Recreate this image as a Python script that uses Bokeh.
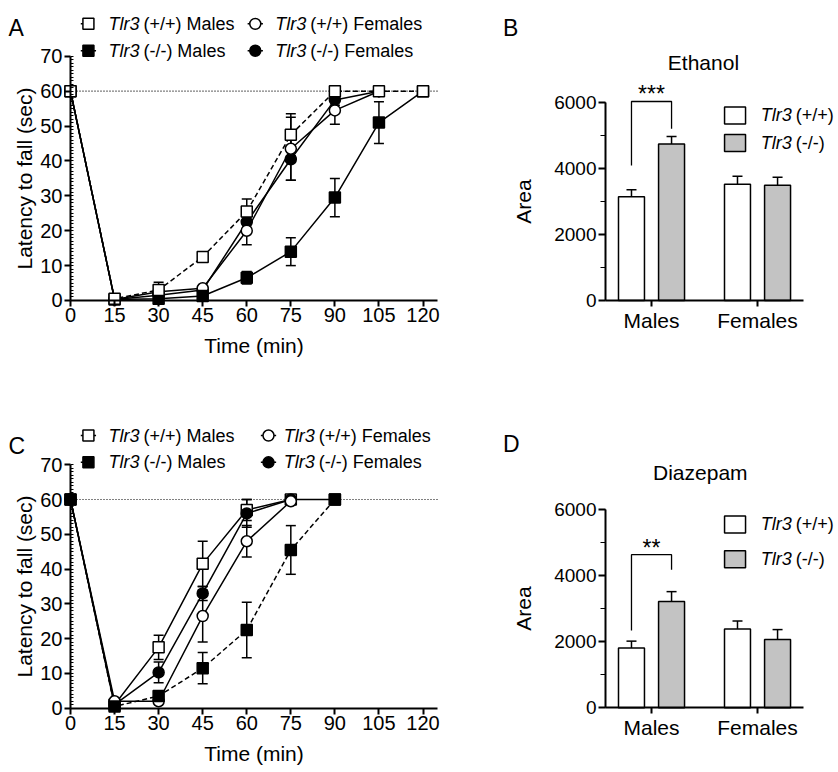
from bokeh.plotting import figure
from bokeh.layouts import row, column
from bokeh.models import (Range1d, FixedTicker, SingleIntervalTicker, Whisker, TeeHead,
                          ColumnDataSource, Label)
from bokeh.core.properties import value
from bokeh.embed import file_html
from bokeh.resources import INLINE

FONT = "Liberation Sans"

# ---------------- data ----------------
cutoff = 60            # max latency (sec)
time_axis_end = 125
time_ticks = [0, 15, 30, 45, 60, 75, 90, 105, 120]
latency_axis_end = 70

# Panel A: Ethanol, latency to fall (sec)
eth_t_wt_m = [0, 15, 30, 45, 60, 75, 90, 105, 120]
eth_wt_m = [60, 0.5, 3, 12.5, 25.5, 47.5, 60, 60, 60]
eth_wt_m_sem = [0, 0, 2.2, 1.2, 3.6, 6, 0, 0, 0]
eth_t_ko_m = [0, 15, 30, 45, 60, 75, 90, 105, 120]
eth_ko_m = [60, 0.3, 0.5, 1.3, 6.5, 14, 29.5, 51, 60]
eth_ko_m_sem = [0, 0, 0.3, 0.5, 1.8, 4, 5.5, 6, 0]
eth_t_wt_f = [0, 15, 30, 45, 60, 75, 90, 105]
eth_wt_f = [60, 0.3, 2.5, 3.5, 20, 43.5, 54.5, 60]
eth_wt_f_sem = [0, 0, 0.5, 0.5, 4, 9, 4, 0]
eth_t_ko_f = [0, 15, 30, 45, 60, 75, 90, 105]
eth_ko_f = [60, 0.3, 1.5, 3, 22.5, 40.5, 57.5, 60]
eth_ko_f_sem = [0, 0, 0.5, 0.5, 2.5, 6, 1.5, 0]

# Panel C: Diazepam, latency to fall (sec)
dia_t_wt_m = [0, 15, 30, 45, 60, 75, 90]
dia_wt_m = [60, 1, 17.5, 41.5, 57, 60, 60]
dia_wt_m_sem = [0, 0, 3.5, 6.5, 3, 0, 0]
dia_t_ko_m = [0, 15, 30, 45, 60, 75, 90]
dia_ko_m = [60, 0.5, 3.5, 11.5, 22.5, 45.5, 60]
dia_ko_m_sem = [0, 0, 1, 4.5, 8, 7, 0]
dia_t_wt_f = [0, 15, 30, 45, 60, 75]
dia_wt_f = [60, 2, 2, 26.5, 48, 59.5]
dia_wt_f_sem = [0, 0, 0.5, 7.5, 4.5, 0.5]
dia_t_ko_f = [0, 15, 30, 45, 60, 75]
dia_ko_f = [60, 1, 10.3, 33, 56, 60]
dia_ko_f_sem = [0, 0, 3, 2, 4, 0]

# Panels B / D: area under curve
groups = ["Males", "Females"]
area_axis_end = 6000
eth_area_wt = [3150, 3530]
eth_area_wt_sem = [210, 240]
eth_area_ko = [4750, 3500]
eth_area_ko_sem = [230, 240]
dia_area_wt = [1810, 2390]
dia_area_wt_sem = [210, 240]
dia_area_ko = [3220, 2070]
dia_area_ko_sem = [300, 300]
# significance brackets: [left leg bottom, top, right leg bottom]
eth_sig = [4100, 6040, 5210]
eth_sig_text = "***"
dia_sig = [2340, 4640, 4180]
dia_sig_text = "**"

geno_labels = [("Tlr3", "(+/+)"), ("Tlr3", "(-/-)")]
series_labels = [("Tlr3", "(+/+) Males"), ("Tlr3", "(-/-) Males"),
                 ("Tlr3", "(+/+) Females"), ("Tlr3", "(-/-) Females")]

DASH = "5 3"
KO_GREY = "#c3c3c3"


def base_fig(w, h, xr, yr):
    p = figure(width=w, height=h, min_border=0, x_range=Range1d(*xr), y_range=Range1d(*yr),
               output_backend="svg", toolbar_location=None)
    p.outline_line_color = None
    p.grid.visible = False
    p.background_fill_color = "white"
    p.border_fill_color = "white"
    return p


def style_axis(ax, tick_size, label_size):
    ax.axis_line_width = 2
    ax.axis_line_color = "black"
    ax.major_tick_line_width = 2
    ax.major_tick_line_color = "black"
    ax.minor_tick_line_width = 1.2
    ax.minor_tick_line_color = "black"
    ax.major_tick_out = 6
    ax.major_tick_in = 0
    ax.minor_tick_in = 0
    ax.minor_tick_out = 0
    ax.major_label_text_font = FONT
    ax.major_label_text_font_size = tick_size
    ax.major_label_text_color = "black"
    ax.axis_label_text_font = FONT
    ax.axis_label_text_font_size = label_size
    ax.axis_label_text_font_style = "normal"
    ax.axis_label_text_color = "black"
    ax.major_label_standoff = 2
    ax.axis_label_standoff = 3


def line_panel(series, letter, letter_y, h, yr, leg_cols, leg_rows, leg_text_dx):
    p = base_fig(476, h, (-23.83, 138.21), yr)
    p.xaxis.fixed_location = 0
    p.yaxis.fixed_location = 0
    p.xaxis.bounds = (0, time_axis_end)
    p.yaxis.bounds = (0, latency_axis_end)
    p.xaxis.ticker = FixedTicker(ticks=time_ticks)
    p.yaxis.ticker = SingleIntervalTicker(interval=10, num_minor_ticks=10)
    p.xaxis.axis_label = "Time (min)"
    p.yaxis.axis_label = "Latency to fall (sec)"
    for ax in (p.xaxis[0], p.yaxis[0]):
        style_axis(ax, "20px", "21px")
    p.yaxis.minor_tick_in = 3
    p.xaxis.axis_label_standoff = 8
    p.yaxis.axis_label_standoff = 1

    # dotted cut-off line
    p.line([0, time_axis_end], [cutoff, cutoff], line_color="black", line_width=1.2,
           line_dash="1 2")

    for (t, v, sem, marker, fill, dash, lab, col, rw) in series:
        src = ColumnDataSource(dict(
            x=[ti for ti, s in zip(t, sem) if s > 0],
            lo=[vi - s for vi, s in zip(v, sem) if s > 0],
            hi=[vi + s for vi, s in zip(v, sem) if s > 0]))
        p.add_layout(Whisker(source=src, base="x", lower="lo", upper="hi",
                             dimension="height", line_color="black", line_width=1.5,
                             upper_head=TeeHead(size=10, line_width=1.5),
                             lower_head=TeeHead(size=10, line_width=1.5),
                             level="underlay"))
        p.line(t, v, line_color="black", line_width=1.5, line_dash=dash)
        # legend swatch + label
        lx = leg_cols[col]
        ly = leg_rows[rw]
        p.line([lx - 2.6, lx + 2.6], [ly, ly], line_color="black", line_width=1.5,
               line_dash=dash)
        p.text(x=[lx + leg_text_dx[col]], y=[ly], text=[lab[0]], text_font=value(FONT),
               text_font_style="italic", text_font_size="18px", text_baseline="middle",
               text_color="black")
        p.text(x=[lx + leg_text_dx[col]], y=[ly], text=[lab[1]], text_font=value(FONT),
               text_font_size="18px", text_baseline="middle", text_color="black",
               x_offset=35)

    for (t, v, sem, marker, fill, dash, lab, col, rw) in series:
        p.scatter(t, v, marker=marker, size=11, fill_color=fill, line_color="black",
                  line_width=1.5)
        p.scatter([leg_cols[col]], [leg_rows[rw]], marker=marker, size=11,
                  fill_color=fill, line_color="black", line_width=1.5)

    p.add_layout(Label(x=-21.1, y=letter_y, text=letter, text_font=FONT,
                       text_font_size="23px", text_color="black",
                       text_baseline="alphabetic", text_font_style="normal"))
    return p


def bar_panel(wt, wt_sem, ko, ko_sem, sig, sig_text, title, title_xy, letter, letter_y,
              leg_y, h, yr, box_h):
    gx = [i + 1 for i in range(len(groups))]
    x0, x1 = 0.566, 2.434
    p = base_fig(360, h, (-0.651, 2.745), yr)
    p.xaxis.fixed_location = 0
    p.yaxis.fixed_location = x0
    p.xaxis.bounds = (x0, x1)
    p.yaxis.bounds = (0, area_axis_end)
    p.yaxis.ticker = SingleIntervalTicker(interval=2000, num_minor_ticks=2)
    p.xaxis.ticker = FixedTicker(ticks=gx)
    p.xaxis.major_label_overrides = {g: name for g, name in zip(gx, groups)}
    p.yaxis.axis_label = "Area"
    style_axis(p.xaxis[0], "21px", "21px")
    style_axis(p.yaxis[0], "19px", "21px")
    p.yaxis.minor_tick_out = 5
    p.yaxis.major_tick_out = 7
    p.xaxis.major_tick_out = 6
    p.yaxis.axis_label_standoff = 16

    off = 0.189
    bw = 0.245
    xw = [g - off for g in gx]
    xk = [g + off for g in gx]
    for xs, vals, sems in ((xw, wt, wt_sem), (xk, ko, ko_sem)):
        src = ColumnDataSource(dict(x=xs, lo=vals, hi=[v + s for v, s in zip(vals, sems)]))
        p.add_layout(Whisker(source=src, base="x", lower="lo", upper="hi",
                             dimension="height", line_color="black", line_width=1.5,
                             upper_head=TeeHead(size=10, line_width=1.5),
                             lower_head=None, level="underlay"))
    p.vbar(x=xw, top=wt, width=bw, fill_color="white", line_color="black", line_width=1.5)
    p.vbar(x=xk, top=ko, width=bw, fill_color=KO_GREY, line_color="black", line_width=1.5)

    # significance bracket
    p.line([xw[0], xw[0], xk[0], xk[0]], [sig[0], sig[1], sig[1], sig[2]],
           line_color="black", line_width=1.3)
    p.text(x=[(xw[0] + xk[0]) / 2], y=[sig[1]], text=[sig_text], text_font=value(FONT),
           text_font_size="23px", text_align="center", text_baseline="alphabetic",
           text_color="black", y_offset=-7)

    # legend
    fills = ["white", KO_GREY]
    for (lab, fc, ly) in zip(geno_labels, fills, leg_y):
        p.rect(x=[1.788], y=[ly], width=0.198, height=box_h, fill_color=fc,
               line_color="black", line_width=1.5)
        p.text(x=[2.03], y=[ly], text=[lab[0]], text_font=value(FONT),
               text_font_style="italic", text_font_size="18px", text_baseline="middle",
               text_color="black")
        p.text(x=[2.03], y=[ly], text=[lab[1]], text_font=value(FONT),
               text_font_size="18px", text_baseline="middle", text_color="black",
               x_offset=35)

    p.add_layout(Label(x=title_xy[0], y=title_xy[1], text=title, text_font=FONT,
                       text_font_size="21px", text_align="center", text_baseline="middle",
                       text_color="black", text_font_style="normal"))
    p.add_layout(Label(x=-0.40, y=letter_y, text=letter, text_font=FONT,
                       text_font_size="23px", text_color="black",
                       text_baseline="alphabetic", text_font_style="normal"))
    return p


sA = [
    (eth_t_ko_f, eth_ko_f, eth_ko_f_sem, "circle", "black", "solid", series_labels[3], 1, 1),
    (eth_t_wt_f, eth_wt_f, eth_wt_f_sem, "circle", "white", "solid", series_labels[2], 1, 0),
    (eth_t_ko_m, eth_ko_m, eth_ko_m_sem, "square", "black", "solid", series_labels[1], 0, 1),
    (eth_t_wt_m, eth_wt_m, eth_wt_m_sem, "square", "white", DASH, series_labels[0], 0, 0),
]
sC = [
    (dia_t_wt_m, dia_wt_m, dia_wt_m_sem, "square", "white", "solid", series_labels[0], 0, 0),
    (dia_t_ko_f, dia_ko_f, dia_ko_f_sem, "circle", "black", "solid", series_labels[3], 1, 1),
    (dia_t_wt_f, dia_wt_f, dia_wt_f_sem, "circle", "white", "solid", series_labels[2], 1, 0),
    (dia_t_ko_m, dia_ko_m, dia_ko_m_sem, "square", "black", DASH, series_labels[1], 0, 1),
]

H_TOP, H_BOT = 416, 354
pA = line_panel(sA, "A", 78.0, H_TOP, (-33.26, 86.0), [6.1, 62.9], [79.3, 71.6], [6.8, 6.8])
pC = line_panel(sC, "C", 75.5, H_BOT, (-17.91, 83.87), [6.1, 67.4], [78.4, 70.7], [6.8, 5.2])
pB = bar_panel(eth_area_wt, eth_area_wt_sem, eth_area_ko, eth_area_ko_sem, eth_sig,
               eth_sig_text, "Ethanol", (1.49, 7232), "B", 8285, [5615, 4780],
               H_TOP, (-3520, 9105), 516)
pD = bar_panel(dia_area_wt, dia_area_wt_sem, dia_area_ko, dia_area_ko_sem, dia_sig,
               dia_sig_text, "Diazepam", (1.46, 7139), "D", 8000, [5555, 4503],
               H_BOT, (-1900, 8827), 515)

layout = row(column(pA, pC), column(pB, pD))
open("out.html", "w").write(file_html(layout, INLINE))
